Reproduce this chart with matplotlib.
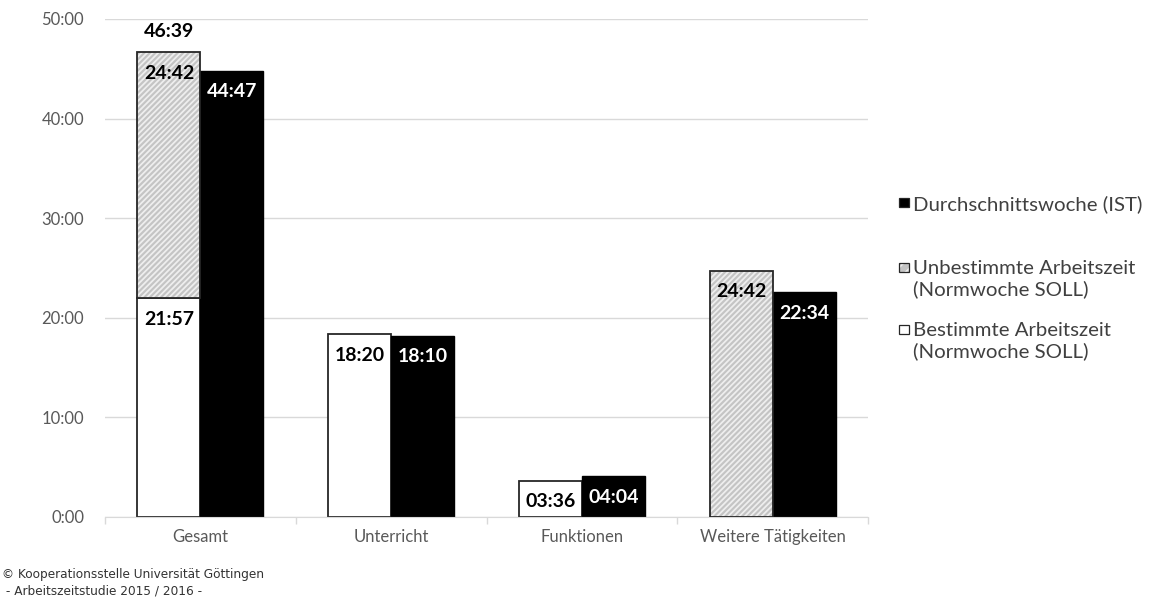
import matplotlib
matplotlib.use('Agg')
import matplotlib.pyplot as plt
from matplotlib.patches import Rectangle
import numpy as np

plt.rcParams['font.family'] = ['Lato', 'DejaVu Sans']
plt.rcParams['hatch.linewidth'] = 1.3

categories = ['Gesamt', 'Unterricht', 'Funktionen', 'Weitere Tätigkeiten']
# Werte in Stunden (hh:mm)
soll_bestimmt = ['21:57', '18:20', '03:36', '0:00']
soll_unbestimmt = ['24:42', '0:00', '0:00', '24:42']
ist = ['44:47', '18:10', '04:04', '22:34']
yticks = [0, 10, 20, 30, 40, 50]


def to_h(s):
    h, m = s.split(':')
    return int(h) + int(m) / 60


def fmt(v):
    tot = int(round(v * 60))
    return f'{tot // 60:02d}:{tot % 60:02d}'


b = np.array([to_h(s) for s in soll_bestimmt])
u = np.array([to_h(s) for s in soll_unbestimmt])
i_ = np.array([to_h(s) for s in ist])
x = np.arange(len(categories))
w = 0.33

fig = plt.figure(figsize=(11.5, 6.01), dpi=100)
ax = fig.add_axes([0.0913, 0.1398, 0.6637, 0.8286])

ax.set_axisbelow(True)
ax.grid(axis='y', color='#d9d9d9', lw=1)

xs = x - w / 2
# bestimmte Arbeitszeit (weiss)
for xi, bv in zip(xs, b):
    if bv > 0:
        ax.bar(xi, bv, w, color='white', edgecolor='#262626', lw=1.3, zorder=2)
# unbestimmte Arbeitszeit (schraffiert)
for xi, bv, uv in zip(xs, b, u):
    if uv > 0:
        ax.bar(xi, uv, w, bottom=bv, color='#c4c4c4', edgecolor='#eeeeee', hatch='//////', lw=0, zorder=2)
        ax.bar(xi, uv, w, bottom=bv, color='none', edgecolor='#262626', lw=1.3, zorder=3)
# IST
ax.bar(x + w / 2, i_, w, color='black', edgecolor='black', lw=1, zorder=2)

lab = dict(fontsize=14, fontweight='bold', ha='center', va='center', textcoords='offset points', zorder=5)
for k in range(len(x)):
    if b[k] > 0:
        ax.annotate(soll_bestimmt[k], (xs[k], b[k]), xytext=(0, -15), color='black', **lab)
    if u[k] > 0:
        ax.annotate(soll_unbestimmt[k], (xs[k], b[k] + u[k]), xytext=(0, -15), color='black', **lab)
    if b[k] > 0 and u[k] > 0:
        ax.annotate(fmt(b[k] + u[k]), (xs[k], b[k] + u[k]), xytext=(0, 15), color='black', **lab)
    ax.annotate(ist[k], (x[k] + w / 2, i_[k]), xytext=(0, -15), color='white', **lab)

ax.set_xlim(-0.5, len(x) - 0.5)
ax.set_ylim(0, 50)
ax.set_yticks(yticks)
ax.set_yticklabels([f'{v}:00' for v in yticks], color='#595959', fontsize=12)
ax.tick_params(axis='y', length=0, pad=15)
ax.set_xticks(x)
ax.set_xticklabels(categories, color='#595959', fontsize=12)
ax.tick_params(axis='x', which='major', length=0, pad=9)
ax.set_xticks(np.arange(-0.5, len(x), 1), minor=True)
ax.tick_params(axis='x', which='minor', length=5, color='#d9d9d9', width=1)
for s in ['top', 'right', 'left']:
    ax.spines[s].set_visible(False)
ax.spines['bottom'].set_color('#d9d9d9')

# Legende
legend = [
    (0.663, 'black', None, 'Durchschnittswoche (IST)'),
    (0.555, '#c4c4c4', '///', 'Unbestimmte Arbeitszeit\n(Normwoche SOLL)'),
    (0.452, 'white', None, 'Bestimmte Arbeitszeit\n(Normwoche SOLL)'),
]
for yy, fc, ht, txt in legend:
    r = (0.7815, yy - 0.008)
    if ht:
        fig.patches.append(Rectangle(r, 0.0085, 0.016, transform=fig.transFigure,
                                     facecolor=fc, edgecolor='#eeeeee', hatch=ht, lw=0))
        fc = 'none'
    fig.patches.append(Rectangle(r, 0.0085, 0.016, transform=fig.transFigure,
                                 facecolor=fc, edgecolor='#262626', lw=0.9))
    fig.text(0.7935, yy + 0.0125, txt, fontsize=14.7, color='#404040', va='top', linespacing=1.25)

fig.text(0.002, 0.038, '© Kooperationsstelle Universität Göttingen', family='DejaVu Sans', fontsize=8.7, color='#333333')
fig.text(0.002, 0.011, ' - Arbeitszeitstudie 2015 / 2016 -', family='DejaVu Sans', fontsize=8.7, color='#333333')

fig.savefig('out.png', dpi=100)
